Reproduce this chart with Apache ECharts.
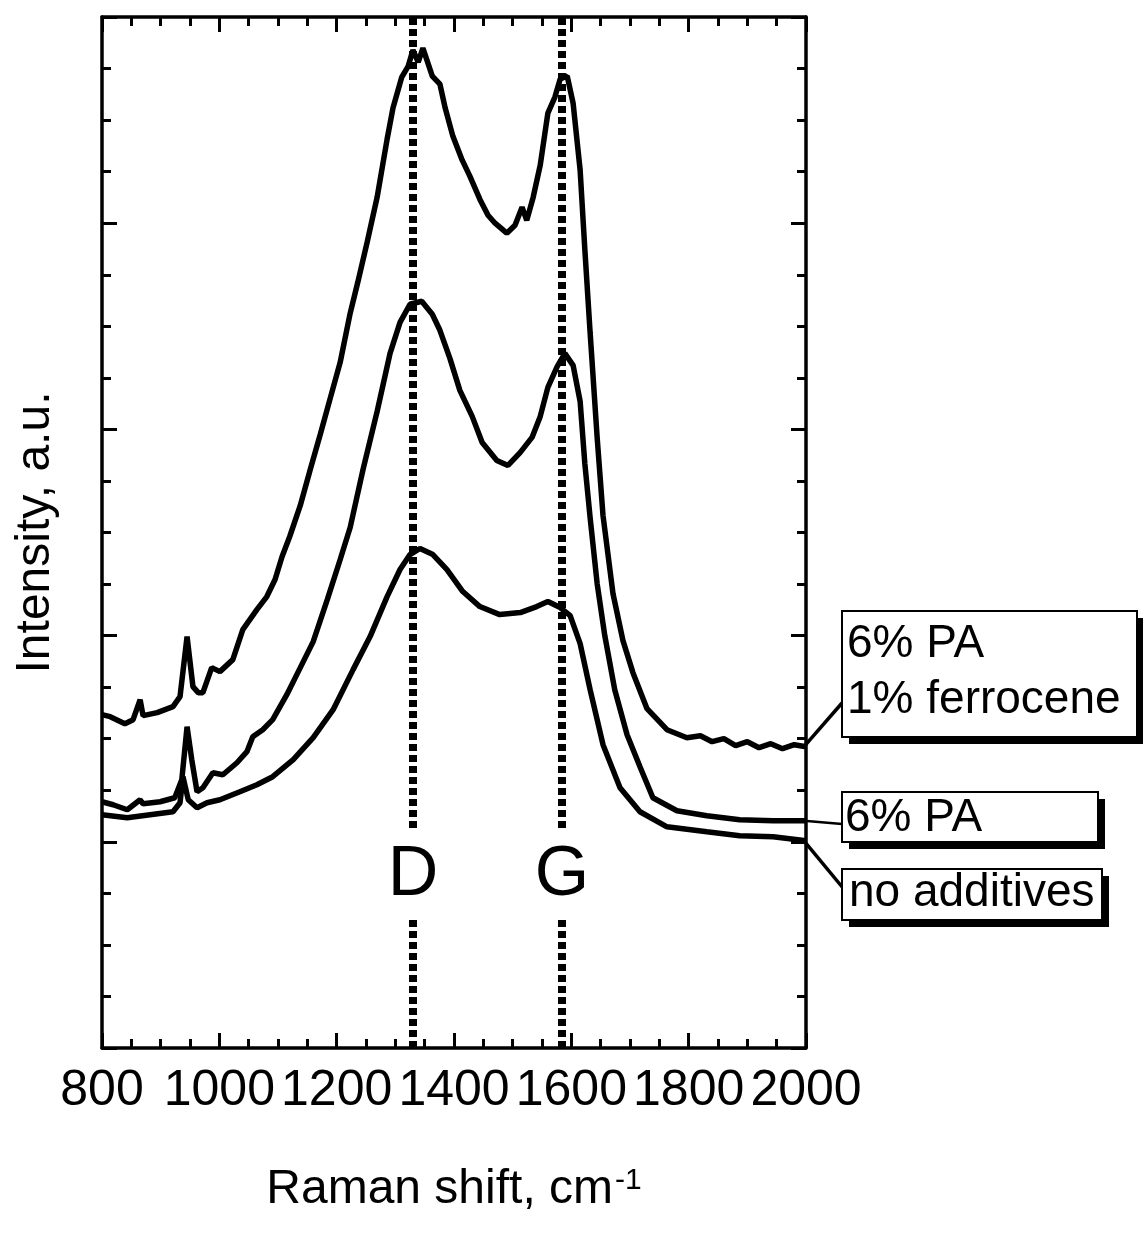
<!DOCTYPE html>
<html>
<head>
<meta charset="utf-8">
<script src="https://cdn.jsdelivr.net/npm/echarts@6/dist/echarts.min.js"></script>
<style>
  html, body { margin: 0; padding: 0; background: #fff; }
  #chart { width: 1143px; height: 1236px; }
</style>
</head>
<body>
<div id="chart"></div>
<script>
// Raman spectra. x = Raman shift (cm-1), y = intensity (a.u., offset)
const xTicks = [800, 1000, 1200, 1400, 1600, 1800, 2000];

// 6% PA + 1% ferrocene (top trace)
const ferroX = [800, 814, 839, 853, 865, 870, 894, 921, 933, 945, 955, 964, 972, 987, 1001, 1023, 1040, 1064, 1081, 1095, 1107, 1120, 1138, 1155, 1172, 1189, 1206, 1223, 1236, 1252, 1269, 1286, 1296, 1311, 1322, 1330, 1339, 1347, 1363, 1376, 1385, 1398, 1414, 1427, 1444, 1458, 1470, 1490, 1504, 1516, 1524, 1535, 1547, 1560, 1572, 1581, 1593, 1603, 1615, 1623, 1632, 1644, 1654, 1671, 1688, 1705, 1729, 1763, 1797, 1820, 1840, 1860, 1880, 1900, 1920, 1940, 1960, 1980, 2000];
const ferroY = [333, 331, 324, 328, 348, 332, 335, 341, 351, 411, 361, 355, 355, 380, 376, 388, 418, 438, 451, 468, 491, 511, 542, 578, 613, 649, 685, 734, 765, 805, 850, 908, 939, 970, 981, 997, 985, 999, 971, 963, 939, 911, 887, 871, 848, 832, 824, 814, 822, 840, 827, 850, 882, 934, 950, 968, 971, 944, 877, 798, 715, 610, 532, 454, 407, 375, 339, 318, 310, 312, 306, 309, 302, 306, 300, 304, 299, 303, 301];

// 6% PA (middle trace)
const paX = [800, 819, 843, 865, 870, 899, 924, 936, 945, 953, 962, 972, 989, 1006, 1030, 1047, 1057, 1074, 1091, 1115, 1138, 1160, 1184, 1206, 1223, 1245, 1269, 1291, 1308, 1325, 1345, 1363, 1376, 1393, 1410, 1431, 1448, 1473, 1492, 1513, 1533, 1547, 1560, 1576, 1589, 1603, 1615, 1623, 1632, 1644, 1657, 1674, 1695, 1717, 1739, 1780, 1831, 1887, 1944, 2000];
const paY = [246, 243, 238, 248, 244, 246, 250, 268, 321, 288, 256, 260, 275, 273, 285, 296, 311, 318, 328, 353, 380, 406, 448, 488, 520, 578, 636, 694, 725, 743, 746, 733, 717, 689, 657, 631, 605, 587, 582, 595, 610, 631, 660, 681, 694, 682, 646, 584, 530, 464, 412, 358, 313, 281, 250, 237, 232, 228, 227, 227];

// no additives (bottom trace)
const plainX = [800, 843, 882, 921, 933, 938, 947, 962, 979, 1001, 1035, 1064, 1091, 1126, 1160, 1194, 1228, 1257, 1286, 1308, 1325, 1342, 1364, 1388, 1415, 1444, 1478, 1513, 1541, 1560, 1581, 1598, 1615, 1632, 1654, 1683, 1717, 1763, 1831, 1887, 1944, 2000];
const plainY = [233, 230, 233, 236, 245, 271, 248, 240, 245, 248, 256, 263, 271, 288, 310, 338, 378, 411, 451, 478, 493, 499, 493, 478, 456, 441, 433, 435, 441, 446, 440, 432, 404, 358, 303, 260, 236, 221, 216, 212, 211, 207];

// band positions
const bandNames = ['D', 'G'];
const bandX = [1330, 1584];
const bandLabelY = 172;

const seriesNames = ['6% PA\n1% ferrocene', '6% PA', 'no additives'];

const zip = (xs, ys) => xs.map((x, i) => [x, ys[i]]);

const FONT = '"Liberation Sans", Arial, sans-serif';

const chart = echarts.init(document.getElementById('chart'), null, { renderer: 'canvas' });

const axisCommon = {
  axisLine: { show: true, onZero: false, lineStyle: { color: '#000', width: 3.5 } },
  axisTick: { show: true, inside: true, length: 15, lineStyle: { color: '#000', width: 3 } },
  minorTick: { show: true, splitNumber: 4, length: 9, lineStyle: { color: '#000', width: 3 } },
  splitLine: { show: false },
};

const lineStyle = { color: '#000', width: 5.5 };

chart.setOption({
  animation: false,
  backgroundColor: '#fff',
  grid: { left: 102, top: 17, right: 337, bottom: 188 },
  xAxis: [
    Object.assign({}, axisCommon, {
      type: 'value', min: xTicks[0], max: xTicks[xTicks.length - 1], interval: 200, position: 'bottom',
      axisLabel: {
        color: '#000', fontSize: 50, fontFamily: FONT, margin: 18,
        showMinLabel: true, showMaxLabel: true, hideOverlap: false,
        formatter: v => String(v),
      },
      name: 'Raman shift, cm{sup|-1}',
      nameLocation: 'middle',
      nameGap: 118,
      nameTextStyle: {
        color: '#000', fontSize: 48, fontFamily: FONT,
        rich: { sup: { fontSize: 30, fontFamily: FONT, color: '#000', verticalAlign: 'top', padding: [0, 0, 0, 2] } },
      },
    }),
    Object.assign({}, axisCommon, {
      type: 'value', min: xTicks[0], max: xTicks[xTicks.length - 1], interval: 200, position: 'top',
      axisLabel: { show: false },
    }),
  ],
  yAxis: [
    Object.assign({}, axisCommon, {
      type: 'value', min: 0, max: 1030, interval: 206, position: 'left',
      axisLabel: { show: false },
      name: 'Intensity, a.u.',
      nameLocation: 'middle',
      nameGap: 42,
      nameTextStyle: { color: '#000', fontSize: 48, fontFamily: FONT },
    }),
    Object.assign({}, axisCommon, {
      type: 'value', min: 0, max: 1030, interval: 206, position: 'right',
      axisLabel: { show: false },
    }),
  ],
  series: [
    {
      name: seriesNames[0], type: 'line', showSymbol: false, symbol: 'none',
      data: zip(ferroX, ferroY), lineStyle: lineStyle, z: 3,
      markLine: {
        silent: true, symbol: 'none', label: { show: false },
        lineStyle: { color: '#000', width: 8, type: [7, 4] },
        data: bandX.map(x => ({ xAxis: x })),
      },
    },
    { name: seriesNames[1], type: 'line', showSymbol: false, symbol: 'none', data: zip(paX, paY), lineStyle: lineStyle, z: 3 },
    { name: seriesNames[2], type: 'line', showSymbol: false, symbol: 'none', data: zip(plainX, plainY), lineStyle: lineStyle, z: 3 },
    {
      type: 'scatter', symbolSize: 2, itemStyle: { color: 'rgba(0,0,0,0)', opacity: 1 }, z: 6, silent: true,
      data: bandX.map((x, i) => ({ value: [x, bandLabelY], name: bandNames[i] })),
      label: {
        show: true, position: 'inside', offset: [5, 0], formatter: p => p.name,
        color: '#000', opacity: 1, fontSize: 70, fontFamily: FONT, lineHeight: 70,
        backgroundColor: '#fff', padding: [9, 2, 9, 2],
      },
      labelLayout: { hideOverlap: false },
    },
  ],
});

// annotation boxes with drop shadow, leader lines start at each trace's last point
const boxes = [
  { x: 842, y: 611, w: 295, h: 126, lines: ['6% PA', '1% ferrocene'], lineY: [644, 700], tx: 847, anchor: [842, 703], last: [ferroX, ferroY], lw: 3.5 },
  { x: 842, y: 792, w: 256, h: 50, lines: ['6% PA'], lineY: [818], tx: 845, anchor: [842, 824], last: [paX, paY], lw: 2.5 },
  { x: 842, y: 869, w: 260, h: 51, lines: ['no additives'], lineY: [893], tx: 849, anchor: [843, 888], last: [plainX, plainY], lw: 3.5 },
];

const graphics = [];
boxes.forEach(b => {
  const n = b.last[0].length;
  const p = chart.convertToPixel({ xAxisIndex: 0, yAxisIndex: 0 }, [b.last[0][n - 1], b.last[1][n - 1]]);
  graphics.push({
    type: 'line', z: 10,
    shape: { x1: p[0] - 2, y1: p[1], x2: b.anchor[0], y2: b.anchor[1] },
    style: { stroke: '#000', lineWidth: b.lw },
  });
  graphics.push({ type: 'rect', z: 10, shape: { x: b.x + 7, y: b.y + 7, width: b.w, height: b.h }, style: { fill: '#000' } });
  graphics.push({ type: 'rect', z: 11, shape: { x: b.x, y: b.y, width: b.w, height: b.h }, style: { fill: '#fff', stroke: '#000', lineWidth: 2 } });
  b.lines.forEach((t, i) => {
    graphics.push({
      type: 'text', z: 12, x: b.tx, y: b.lineY[i],
      style: { text: t, font: '46px ' + FONT, fill: '#000', verticalAlign: 'middle' },
    });
  });
});
chart.setOption({ graphic: graphics });
</script>
</body>
</html>
